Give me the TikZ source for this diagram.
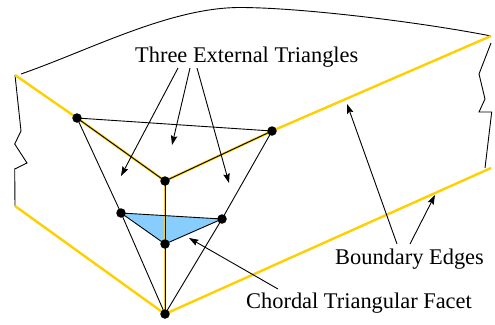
\documentclass[tikz,border=0pt]{standalone}
\usepackage{fontspec}
\setmainfont{Liberation Serif}
\usetikzlibrary{arrows.meta}
\definecolor{edgegold}{RGB}{255,208,0}
\definecolor{facetblue}{RGB}{135,206,255}
\tikzset{
  x=1bp,y=-1bp,
  dot/.style={circle,fill=black,inner sep=0pt,minimum size=9.5bp},
  thin line/.style={draw=black,line width=0.9bp},
  gold/.style={draw=edgegold,line width=2.4bp},
  pointer/.style={draw=black,line width=0.9bp,-{Stealth[length=9.5bp,width=6.5bp,inset=1.5bp]}},
  lab/.style={inner sep=0pt,anchor=base west,font=\fontsize{22.4bp}{24bp}\selectfont},
}
\begin{document}
\begin{tikzpicture}
\useasboundingbox (0,0) rectangle (495,324);
% boundary corners
\coordinate (a) at (15,75);
\coordinate (tr) at (491,36);
\coordinate (ll) at (15,206);
\coordinate (lr) at (491,168);
% outline
\draw[thin line] (21,74) .. controls (90,50) and (170,7.5) .. (240,7.5) .. controls (300,7.5) and (420,22) .. (tr);
\draw[thin line,line join=miter] (a) -- (21,131) -- (14.7,144) -- (27,163) -- (14.7,169) -- (ll);
\draw[thin line,line join=miter] (491,43) -- (479,74) -- (485,99) -- (479,112) -- (491.7,112) -- (485,168);
% nodes (positions)
\coordinate (p1) at (77,118);
\coordinate (p2) at (272,131);
\coordinate (c) at (165,181);
\coordinate (l) at (121,213);
\coordinate (r) at (222,219);
\coordinate (b) at (165,244);
\coordinate (s) at (165,314);
% facet
\fill[facetblue] (l) -- (r) -- (b) -- cycle;
% gold
\draw[gold] (a) -- (p1) -- (c) -- (p2) -- (tr);
\draw[gold] (c) -- (s);
\draw[gold] (ll) -- (s) -- (lr);
% black edges
\draw[thin line] (p1) -- (p2);
\draw[thin line] (p1) -- (c);
\draw[thin line] (p2) -- (c);
\draw[thin line] (c) -- (b);
\draw[thin line] (b) -- (s);
\draw[thin line] (p1) -- (l);
\draw[thin line] (l) -- (s);
\draw[thin line] (p2) -- (r);
\draw[thin line] (r) -- (s);
\draw[thin line] (l) -- (r);
\draw[thin line] (r) -- (b);
\draw[thin line] (l) -- (b);
% dots
\foreach \n in {p1,p2,c,l,r,b,s} \node[dot] (d\n) at (\n) {};
% labels
\node[lab] (three) at (135,62) {Three External Triangles};
\node[lab] (bound) at (335,264) {Boundary Edges};
\node[lab] (chord) at (246,308) {Chordal Triangular Facet};
% pointers
\coordinate (t1) at (178,68); \coordinate (h1) at (121,176);
\coordinate (t2) at (190,68); \coordinate (h2) at (172,145);
\coordinate (t3) at (197,68); \coordinate (h3) at (229,183);
\coordinate (t4) at (397,244); \coordinate (h4) at (347,104);
\coordinate (t5) at (410,244); \coordinate (h5) at (435,195);
\coordinate (t6) at (278,289); \coordinate (h6) at (189,238);
\foreach \i in {1,...,6} \draw[pointer] (t\i) -- (h\i);
\end{tikzpicture}
\end{document}
